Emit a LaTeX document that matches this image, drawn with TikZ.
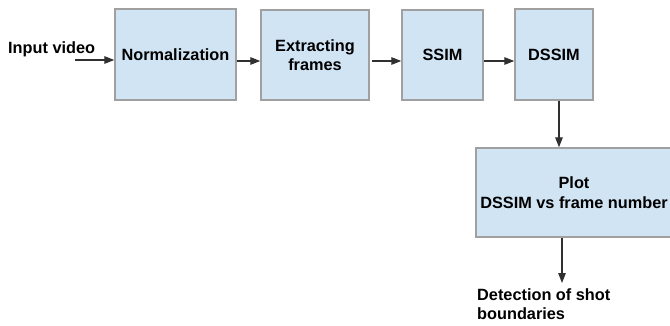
\documentclass[tikz,border=0pt]{standalone}
\usepackage{fontspec}
\setmainfont{Liberation Sans}
\usetikzlibrary{arrows.meta,calc}
\definecolor{boxfill}{HTML}{D0E4F3}
\definecolor{boxline}{HTML}{A0A0A0}
\definecolor{arrline}{HTML}{303030}
\begin{document}
\begin{tikzpicture}[x=1pt,y=-1pt,
  every node/.style={font=\fontsize{16.3}{19.5}\selectfont\bfseries},
  stepbox/.style={draw=boxline,fill=boxfill,line width=1.4pt,align=center,inner sep=0pt},
  arr/.style={draw=arrline,line width=1.3pt,-{Triangle[length=10pt,width=7.5pt]}}]
\useasboundingbox (0,0) rectangle (670,325);
\clip (0,0) rectangle (670,325);
\node[stepbox,minimum width=121pt,minimum height=91pt] (norm) at (175.5,54.5) {Normalization};
\node[stepbox,minimum width=108pt,minimum height=90pt] (extr) at (315,55) {Extracting\\frames};
\node[stepbox,minimum width=81pt,minimum height=90pt] (ssim) at (442.5,55) {SSIM};
\node[stepbox,minimum width=78pt,minimum height=91pt] (dssim) at (554,54.5) {DSSIM};
\node[stepbox,minimum width=214pt,minimum height=89pt] (plot) at (583,192.5) {\hspace*{-18pt}Plot\\\hspace*{-18pt}DSSIM vs frame number};
\node[anchor=base west,inner sep=0pt] (inp) at (8,53) {Input video};
\node[anchor=north west,inner sep=0pt,align=left] (det) at (477,288) {Detection of shot\\boundaries};
\coordinate (in1) at (75,60);
\coordinate (row) at (0,61);
\coordinate (c1) at (559,0);
\coordinate (c2) at (562,283);
\draw[arr] (in1) -- (in1 -| norm.west);
\draw[arr] (row -| norm.east) -- (row -| extr.west);
\draw[arr] ([xshift=2pt]row -| extr.east) -- (row -| ssim.west);
\draw[arr] (row -| ssim.east) -- (row -| dssim.west);
\draw[arr] (c1 |- dssim.south) -- (c1 |- plot.north);
\draw[arr] (c2 |- plot.south) -- (c2);
\end{tikzpicture}
\end{document}
